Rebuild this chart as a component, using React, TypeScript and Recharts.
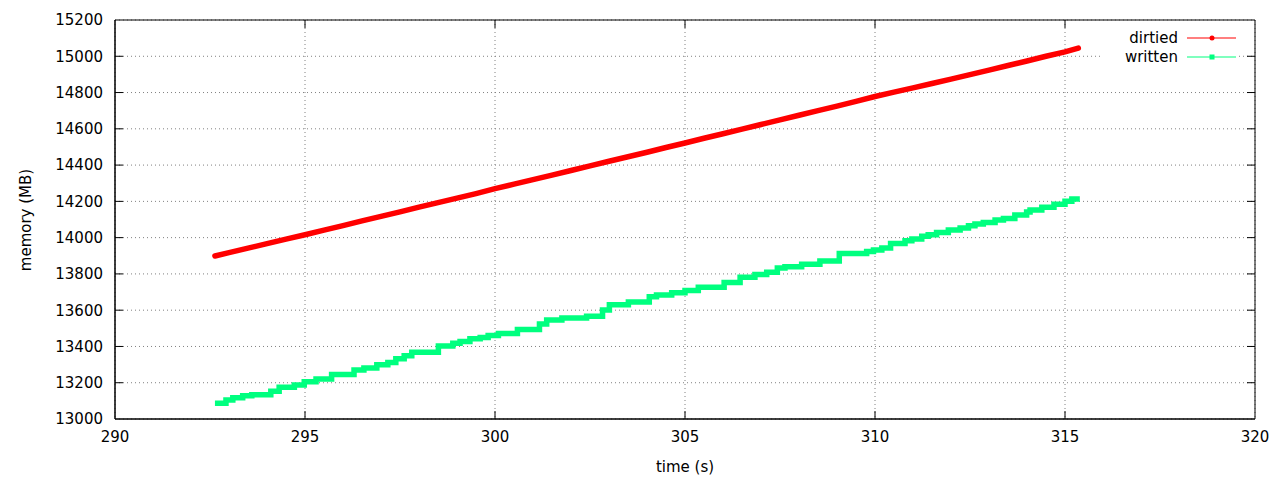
import React from "react";
import {
  LineChart,
  Line,
  XAxis,
  YAxis,
  CartesianGrid,
  ReferenceLine,
  ReferenceArea,
  Legend,
} from "recharts";

// time (s) / memory (MB)
const dirtiedTime = [
  292.63, 293.0, 293.5, 294.0, 294.5, 295.0, 295.5, 296.0, 296.5, 297.0, 297.5,
  298.0, 298.5, 299.0, 299.5, 300.0, 300.5, 301.0, 301.5, 302.0, 302.5, 303.0,
  303.5, 304.0, 304.5, 305.0, 305.5, 306.0, 306.5, 307.0, 307.5, 308.0, 308.5,
  309.0, 309.5, 310.0, 310.5, 311.0, 311.5, 312.0, 312.5, 313.0, 313.5, 314.0,
  314.5, 315.0, 315.35,
];
const dirtiedMB = [
  13899, 13917, 13942, 13967, 13992, 14016, 14041, 14066, 14092, 14117, 14142,
  14168, 14193, 14218, 14243, 14270, 14295, 14320, 14345, 14370, 14396, 14421,
  14446, 14471, 14497, 14522, 14548, 14573, 14598, 14624, 14649, 14675, 14700,
  14725, 14751, 14778, 14802, 14826, 14850, 14874, 14899, 14924, 14949, 14974,
  15000, 15024, 15045,
];

const writtenTime = [
  292.63, 292.92, 293.1, 293.36, 293.6, 294.1, 294.32, 294.72, 294.98, 295.29,
  295.7, 296.29, 296.55, 296.89, 297.18, 297.39, 297.61, 297.81, 298.51, 298.89,
  299.08, 299.34, 299.61, 299.82, 300.09, 300.59, 301.17, 301.36, 301.76, 302.41,
  302.83, 303.01, 303.51, 304.06, 304.25, 304.65, 305.0, 305.35, 306.03, 306.45,
  306.84, 307.15, 307.43, 307.63, 308.07, 308.55, 309.06, 309.78, 309.96, 310.18,
  310.41, 310.79, 310.97, 311.23, 311.4, 311.62, 311.93, 312.24, 312.46, 312.63,
  312.85, 313.16, 313.38, 313.68, 313.99, 314.08, 314.39, 314.71, 315.0, 315.18,
  315.39,
];
const writtenMB = [
  13087, 13105, 13117, 13128, 13134, 13153, 13175, 13187, 13206, 13220,
  13246, 13270, 13281, 13299, 13312, 13332, 13349, 13368, 13402, 13417,
  13428, 13443, 13450, 13461, 13472, 13494, 13524, 13546, 13557, 13566,
  13601, 13630, 13645, 13674, 13684, 13696, 13709, 13726, 13753, 13781,
  13797, 13809, 13832, 13840, 13853, 13871, 13912, 13924, 13932, 13943,
  13968, 13983, 13992, 14007, 14016, 14029, 14042, 14053, 14066, 14075,
  14084, 14097, 14106, 14125, 14141, 14152, 14167, 14184, 14200, 14213,
  14213,
];

const xTicks = [290, 295, 300, 305, 310, 315, 320];
const yTicks = [
  13000, 13200, 13400, 13600, 13800, 14000, 14200, 14400, 14600, 14800, 15000,
  15200,
];

const dirtied = dirtiedTime.map((t, i) => ({ t, mb: dirtiedMB[i] }));
const written = writtenTime.map((t, i) => ({ t, mb: writtenMB[i] }));

const FONT = "'DejaVu Sans', sans-serif";
const RED = "#ff0000";
const GREEN = "#00ff7f";

// inward tick length, in data units (about 8px)
const TX = 0.21;
const TY = 44;

function KeyBox({ payload }: any) {
  return (
    <div
      style={{
        background: "#fff",
        padding: "2px 0",
        fontFamily: FONT,
        fontSize: 15,
        color: "#000",
      }}
    >
      {(payload || []).map((p: any) => (
        <div
          key={p.value}
          style={{ display: "flex", alignItems: "center", height: 19, justifyContent: "flex-end" }}
        >
          <span style={{ marginRight: 9 }}>{p.value}</span>
          <svg width={50} height={10}>
            <line x1={0} y1={5} x2={49} y2={5} stroke={p.color} strokeWidth={1.2} />
            {p.value === "dirtied" ? (
              <circle cx={25} cy={5} r={2.5} fill={p.color} />
            ) : (
              <rect x={22.5} y={2.5} width={5} height={5} fill={p.color} />
            )}
          </svg>
        </div>
      ))}
    </div>
  );
}

export default function App() {
  return (
    <div style={{ position: "absolute", left: 0, top: 0, width: 1280, height: 480, background: "#fff" }}>
      <LineChart
        width={1280}
        height={480}
        margin={{ top: 20, right: 25, left: 55, bottom: 31 }}
      >
        <CartesianGrid stroke="#808080" strokeDasharray="1 3" />
        <XAxis
          type="number"
          dataKey="t"
          domain={[290, 320]}
          ticks={xTicks}
          allowDataOverflow
          height={30}
          tickSize={0}
          tickMargin={12}
          tickLine={false}
          axisLine={{ stroke: "#000" }}
          tick={{ fontSize: 15, fill: "#000", fontFamily: FONT }}
        />
        <YAxis
          type="number"
          dataKey="mb"
          domain={[13000, 15200]}
          ticks={yTicks}
          allowDataOverflow
          width={60}
          tickSize={0}
          tickMargin={12}
          tickLine={false}
          axisLine={{ stroke: "#000" }}
          tick={{ fontSize: 15, fill: "#000", fontFamily: FONT }}
        />
        <ReferenceArea
          x1={290}
          x2={320}
          y1={13000}
          y2={15200}
          fill="none"
          stroke="#000"
          strokeWidth={1}
        />
        {xTicks.slice(1, -1).map((t) => (
          <ReferenceLine
            key={"xb" + t}
            segment={[{ x: t, y: 13000 }, { x: t, y: 13000 + TY }]}
            stroke="#000"
          />
        ))}
        {xTicks.slice(1, -1).map((t) => (
          <ReferenceLine
            key={"xt" + t}
            segment={[{ x: t, y: 15200 }, { x: t, y: 15200 - TY }]}
            stroke="#000"
          />
        ))}
        {yTicks.slice(1, -1).map((v) => (
          <ReferenceLine
            key={"yl" + v}
            segment={[{ x: 290, y: v }, { x: 290 + TX, y: v }]}
            stroke="#000"
          />
        ))}
        {yTicks.slice(1, -1).map((v) => (
          <ReferenceLine
            key={"yr" + v}
            segment={[{ x: 320 - TX, y: v }, { x: 320, y: v }]}
            stroke="#000"
          />
        ))}
        <Line
          data={dirtied}
          dataKey="mb"
          name="dirtied"
          type="linear"
          stroke={RED}
          strokeWidth={5.5}
          strokeLinecap="round"
          dot={false}
          isAnimationActive={false}
        />
        <Line
          data={written}
          dataKey="mb"
          name="written"
          type="stepAfter"
          stroke={GREEN}
          strokeWidth={5.5}
          strokeLinejoin="miter"
          dot={false}
          isAnimationActive={false}
        />
        <Legend
          layout="horizontal"
          align="center"
          verticalAlign="middle"
          content={<KeyBox />}
          wrapperStyle={{ position: "absolute", left: 1100, top: 26, width: 137 }}
        />
      </LineChart>
      <div
        style={{
          position: "absolute",
          left: 26,
          top: 220,
          transform: "translate(-50%, -50%) rotate(-90deg)",
          whiteSpace: "nowrap",
          fontFamily: FONT,
          fontSize: 15,
          color: "#000",
        }}
      >
        memory (MB)
      </div>
      <div
        style={{
          position: "absolute",
          left: 685,
          top: 467,
          transform: "translate(-50%, -50%)",
          whiteSpace: "nowrap",
          fontFamily: FONT,
          fontSize: 15,
          color: "#000",
        }}
      >
        time (s)
      </div>
    </div>
  );
}
